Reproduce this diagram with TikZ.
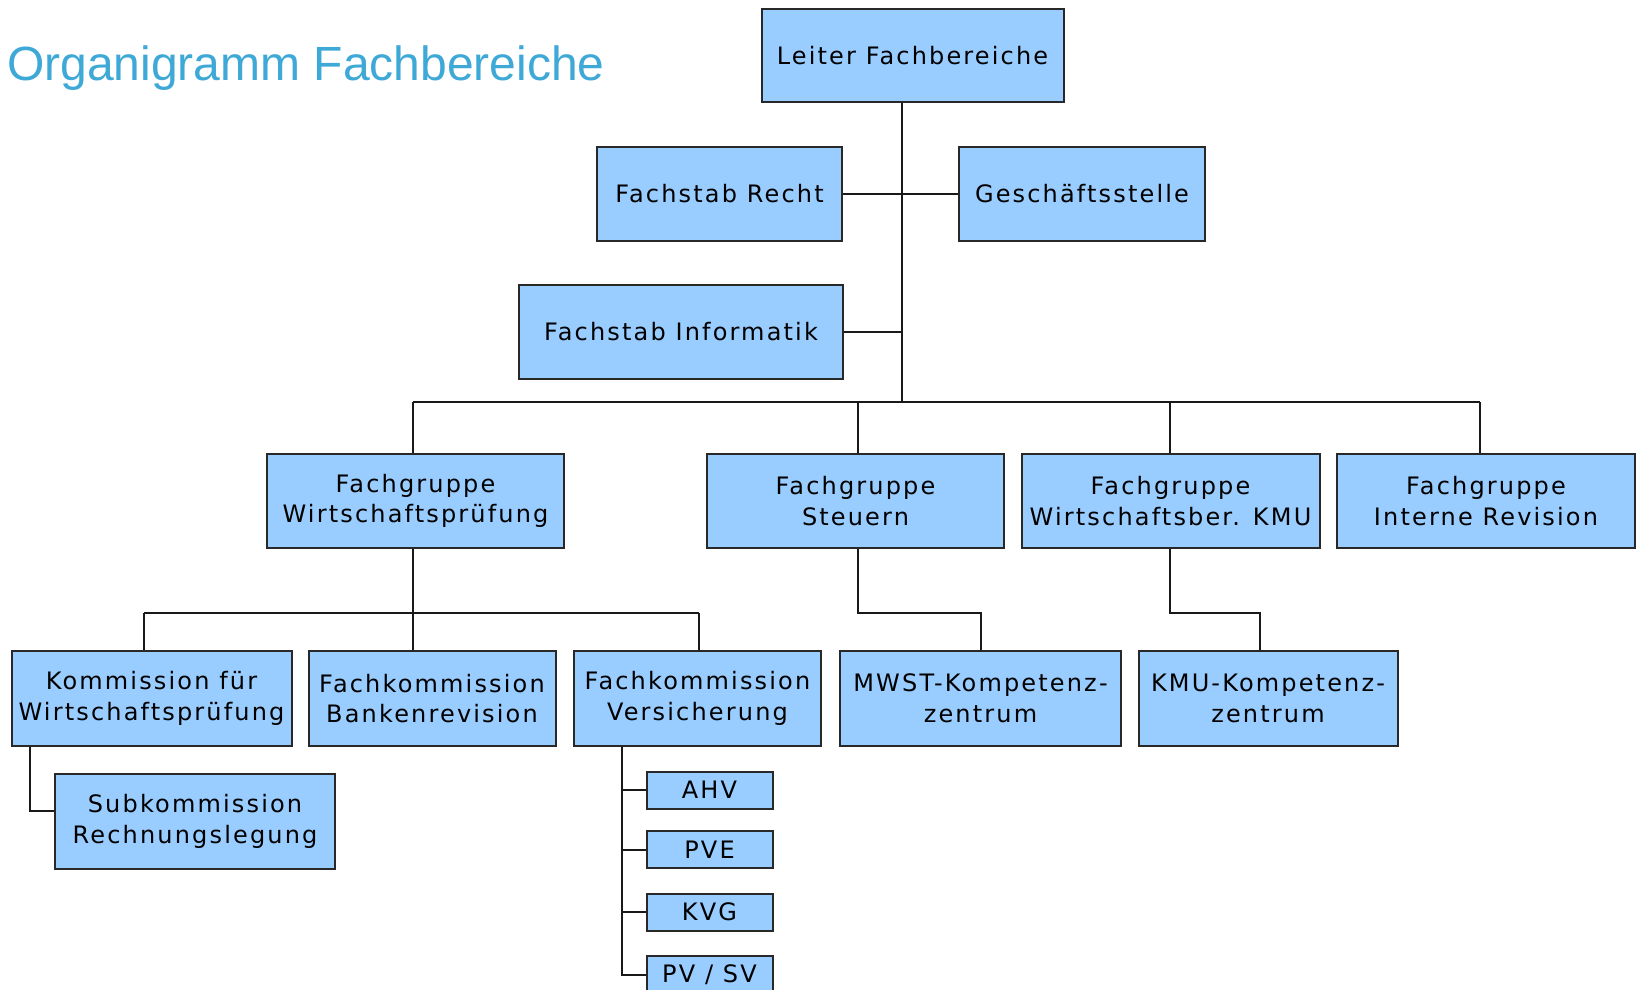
\documentclass[tikz,border=0pt]{standalone}
\usepackage{fontspec}
\newfontfamily\titlefont{Liberation Sans}
\newfontfamily\boxfont[LetterSpace=9]{DejaVu Sans}
\definecolor{boxfill}{RGB}{153,204,255}
\definecolor{boxline}{RGB}{40,40,40}
\definecolor{titleblue}{RGB}{62,168,214}
\tikzset{
  orgbox/.style={draw=boxline, fill=boxfill, line width=2pt, inner sep=0pt, align=center,
    font=\boxfont\fontsize{24}{30.5}\selectfont, text=black},
  conn/.style={line width=2pt, draw=black!90, line join=miter},
}
\begin{document}
\begin{tikzpicture}[x=1pt,y=-1pt]
\clip (0,0) rectangle (1636,990);
\fill[white] (0,0) rectangle (1636,990);

\node[anchor=base west, inner sep=0pt, text=titleblue, font=\titlefont\fontsize{48}{50}\selectfont] (title) at (7,81) {Organigramm Fachbereiche};

% level 0
\node[orgbox, minimum width=302pt, minimum height=93pt] (leiter) at (912.5,55.5) {Leiter Fachbereiche};
% staff
\node[orgbox, minimum width=245pt, minimum height=94pt] (recht) at (719.5,194) {Fachstab Recht};
\node[orgbox, minimum width=246pt, minimum height=94pt] (gs) at (1082,194) {Geschäftsstelle};
\node[orgbox, minimum width=324pt, minimum height=94pt] (info) at (681,332) {Fachstab Informatik};

% level 1
\node[orgbox, minimum width=297pt, minimum height=94pt] (fgwp) at (415.5,501) {Fachgruppe\\Wirtschaftsprüfung};
\node[orgbox, minimum width=297pt, minimum height=94pt] (fgst) at (855.5,501) {Fachgruppe\\Steuern};
\node[orgbox, minimum width=298pt, minimum height=94pt] (fgkmu) at (1170.5,501) {Fachgruppe\\Wirtschaftsber. KMU};
\node[orgbox, minimum width=298pt, minimum height=94pt] (fgir) at (1486,501) {Fachgruppe\\Interne Revision};

% level 2
\node[orgbox, minimum width=280pt, minimum height=95pt] (kom) at (151.5,698.5) {Kommission für\\Wirtschaftsprüfung};
\node[orgbox, minimum width=247pt, minimum height=95pt] (bank) at (432,698.5) {Fachkommission\\Bankenrevision};
\node[orgbox, minimum width=247pt, minimum height=95pt] (vers) at (697.5,698.5) {Fachkommission\\Versicherung};
\node[orgbox, minimum width=281pt, minimum height=95pt] (mwst) at (980.5,698.5) {MWST-Kompetenz-\\zentrum};
\node[orgbox, minimum width=259pt, minimum height=95pt] (kmuk) at (1268,698.5) {KMU-Kompetenz-\\zentrum};

% level 3
\node[orgbox, minimum width=280pt, minimum height=95pt] (sub) at (195,821.5) {Subkommission\\Rechnungslegung};
\node[orgbox, minimum width=126pt, minimum height=37pt] (ahv) at (709.5,790) {AHV};
\node[orgbox, minimum width=126pt, minimum height=37pt] (pve) at (709.5,849.5) {PVE};
\node[orgbox, minimum width=126pt, minimum height=37pt] (kvg) at (709.5,912) {KVG};
\node[orgbox, minimum width=126pt, minimum height=37pt] (pvsv) at (709.5,974.5) {PV / SV};

% junction coordinates
\coordinate (trunk) at (902,402);
\coordinate (bL) at (413,402);
\coordinate (bS) at (857.5,402);
\coordinate (bK) at (1170,402);
\coordinate (bR) at (1480,402);
\coordinate (wpj) at (413,613);
\coordinate (wpl) at (144,613);
\coordinate (wpr) at (699,613);
\coordinate (stj) at (857.5,613);
\coordinate (stk) at (980.5,613);
\coordinate (kj) at (1170,613);
\coordinate (kk) at (1260,613);
\coordinate (sj) at (30,811);
\coordinate (vj) at (621.5,974.5);

% connectors
\draw[conn] (leiter.south -| trunk) -- (trunk);
\draw[conn] (recht.east) -- (gs.west);
\draw[conn] (info.east) -- (info.east -| trunk);
\draw[conn] (bL) -- (bR);
\draw[conn] (bL) -- (bL |- fgwp.north);
\draw[conn] (bS) -- (bS |- fgst.north);
\draw[conn] (bK) -- (bK |- fgkmu.north);
\draw[conn] (bR) -- (bR |- fgir.north);

\draw[conn] (fgwp.south -| wpj) -- (wpj);
\draw[conn] (wpl) -- (wpr);
\draw[conn] (wpl) -- (wpl |- kom.north);
\draw[conn] (wpj) -- (wpj |- bank.north);
\draw[conn] (wpr) -- (wpr |- vers.north);

\draw[conn] (fgst.south -| stj) -- (stj) -- (stk) -- (mwst.north);
\draw[conn] (fgkmu.south -| kj) -- (kj) -- (kk) -- (kk |- kmuk.north);

\draw[conn] (kom.south -| sj) -- (sj) -- (sj -| sub.west);

\draw[conn] (vers.south -| vj) -- (vj) -- (pvsv.west);
\draw[conn] (ahv.west -| vj) -- (ahv.west);
\draw[conn] (pve.west -| vj) -- (pve.west);
\draw[conn] (kvg.west -| vj) -- (kvg.west);
\end{tikzpicture}
\end{document}
